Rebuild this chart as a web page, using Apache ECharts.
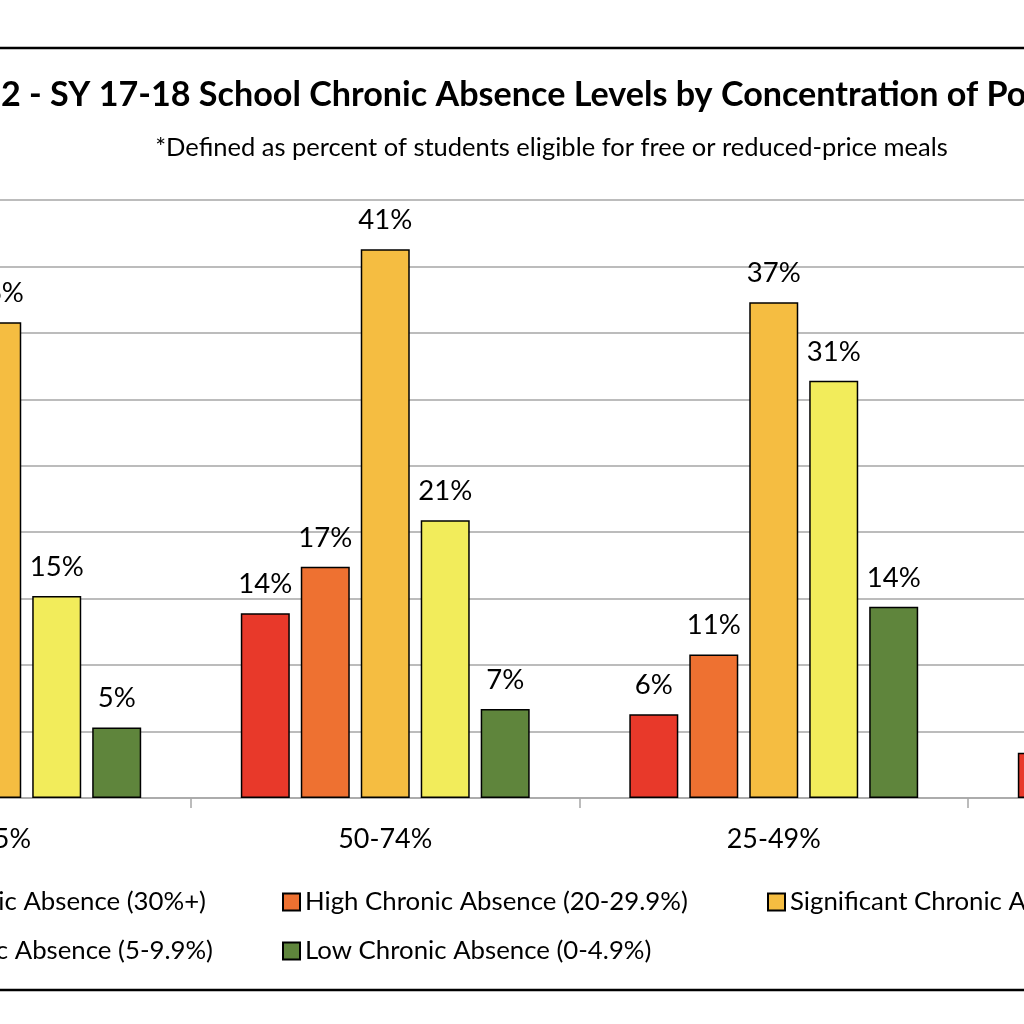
<!DOCTYPE html>
<html><head><meta charset="utf-8">
<script src="https://cdn.jsdelivr.net/npm/echarts@6/dist/echarts.min.js"></script>
<style>
html,body{margin:0;padding:0;width:1024px;height:1024px;overflow:hidden;background:#fff}
#c{position:absolute;left:-300px;top:0;width:1620px;height:1024px}
</style>
</head><body><div id="c"></div>
<script>
// ---- data ----
const categories = ['≥75%', '50-74%', '25-49%', '0-24%'];
const seriesNames = [
  'Severe Chronic Absence (30%+)',
  'High Chronic Absence (20-29.9%)',
  'Significant Chronic Absence (10-19.9%)',
  'Moderate Chronic Absence (5-9.9%)',
  'Low Chronic Absence (0-4.9%)'
];
const severe      = [null, 13.9, 6.3, 3.4];
const high        = [null, 17.4, 10.8, null];
const significant = [35.8, 41.3, 37.3, null];
const moderate    = [15.2, 20.9, 31.4, null];
const low         = [5.3, 6.7, 14.4, null];
const yMin = 0, yMax = 45, yInterval = 5;
const titleText = 'Figure 2 - SY 17-18 School Chronic Absence Levels by Concentration of Poverty*';
const subtitleText = '*Defined as percent of students eligible for free or reduced-price meals';

// ---- styling ----
const colors = ['#E8392A', '#EE7131', '#F5BD41', '#F2EC5B', '#5F853C'];
const FAM = 'Lato, "Open Sans", sans-serif';
const OX = 300; // container offset
const mctx = document.createElement('canvas').getContext('2d');
function textW(text, weight, size) { mctx.font = weight + ' ' + size + 'px ' + FAM; return mctx.measureText(text).width; }
function fitSize(text, weight, target) { return 100 * target / textW(text, weight, 100); }

const titleSize = fitSize('2 - SY 17-18 School Chronic Absence Levels by Concentration of ', 'bold', 986);
const subSize = fitSize(subtitleText, 'normal', 793);
const catSize = fitSize('50-74%', 'normal', 94);
const legSize = fitSize('High Chronic Absence (20-29.9%)', 'normal', 383);
const lblSize = fitSize('41%', 'normal', 54);
const titleX = OX + 1 - textW('Figure ', 'bold', titleSize);
const ICON = 17, ICON_GAP = 5;
function legLeftForEnd(name, endX) { return OX + endX - textW(name, 'normal', legSize) - ICON - ICON_GAP; }

const chart = echarts.init(document.getElementById('c'), null, {renderer: 'canvas'});
const dataArr = [severe, high, significant, moderate, low];
const series = dataArr.map((d, i) => ({
  name: seriesNames[i],
  type: 'bar',
  data: d,
  barWidth: 49,
  barGap: '22.4%',
  itemStyle: {color: colors[i], borderColor: '#000', borderWidth: 1.5},
  label: {show: true, position: 'top', distance: 15,
    formatter: p => Math.round(p.value) + '%',
    color: '#000', fontFamily: FAM, fontSize: lblSize}
}));
const legendBase = {
  orient: 'vertical', itemWidth: ICON, itemHeight: ICON, itemGap: 19, padding: 0,
  icon: 'rect',
  textStyle: {fontFamily: FAM, fontSize: legSize, color: '#000', lineHeight: 30},
  selectedMode: true
};
chart.setOption({
  animation: false,
  backgroundColor: '#fff',
  grid: {left: OX - 197.5, width: 1554, top: 200, height: 598, outerBoundsMode: 'none', containLabel: false},
  xAxis: {
    type: 'category', data: categories,
    axisLine: {lineStyle: {color: '#a6a6a6', width: 1.5}},
    axisTick: {show: true, length: 10, lineStyle: {color: '#a6a6a6', width: 1.5}},
    axisLabel: {margin: 28, color: '#000', fontFamily: FAM, fontSize: catSize}
  },
  yAxis: {
    type: 'value', min: yMin, max: yMax, interval: yInterval,
    axisLabel: {formatter: '{value}%', color: '#000', fontFamily: FAM, fontSize: catSize},
    axisLine: {show: true, lineStyle: {color: '#a6a6a6'}},
    splitLine: {lineStyle: {color: '#a6a6a6', width: 1.5}}
  },
  legend: [
    Object.assign({}, legendBase, {left: legLeftForEnd(seriesNames[0], 205), top: 887, data: [seriesNames[0]]}),
    Object.assign({}, legendBase, {left: legLeftForEnd(seriesNames[3], 212), top: 936, data: [seriesNames[3]]}),
    Object.assign({}, legendBase, {left: OX + 282, top: 887, data: [seriesNames[1], seriesNames[4]]}),
    Object.assign({}, legendBase, {left: OX + 767, top: 887, data: [seriesNames[2]]})
  ],
  graphic: [
    {type: 'rect', silent: true, shape: {x: 20, y: 48, width: 1580, height: 942},
      style: {fill: 'none', stroke: '#000', lineWidth: 2.5}},
    {type: 'text', silent: true, style: {text: titleText, x: titleX, y: 95,
      font: 'bold ' + titleSize + 'px ' + FAM, fill: '#000',
      textAlign: 'left', align: 'left', textVerticalAlign: 'middle', verticalAlign: 'middle'}},
    {type: 'text', silent: true, style: {text: subtitleText, x: OX + 551.5, y: 148,
      font: 'normal ' + subSize + 'px ' + FAM, fill: '#000',
      textAlign: 'center', align: 'center', textVerticalAlign: 'middle', verticalAlign: 'middle'}}
  ],
  series: series
});
</script>
</body></html>
